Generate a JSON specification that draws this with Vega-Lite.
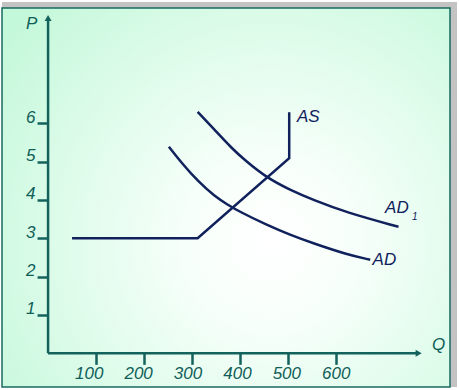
{
  "$schema": "https://vega.github.io/schema/vega-lite/v6.json",
  "width": 448,
  "height": 379,
  "autosize": "none",
  "padding": {"left": 2, "top": 8, "right": 9, "bottom": 3},
  "background": "#ffffff",
  "config": {"view": {"stroke": null}, "font": "Liberation Sans"},
  "datasets": {
    "curves": [
      {"series": "AS", "i": 0, "Q": 50, "P": 3.0},
      {"series": "AS", "i": 1, "Q": 312, "P": 3.0},
      {"series": "AS", "i": 2, "Q": 503, "P": 5.09},
      {"series": "AS", "i": 3, "Q": 503, "P": 6.29},
      {"series": "AD", "i": 0, "Q": 252, "P": 5.39},
      {"series": "AD", "i": 1, "Q": 279, "P": 4.96},
      {"series": "AD", "i": 2, "Q": 313, "P": 4.48},
      {"series": "AD", "i": 3, "Q": 348, "P": 4.09},
      {"series": "AD", "i": 4, "Q": 373, "P": 3.89},
      {"series": "AD", "i": 5, "Q": 400, "P": 3.69},
      {"series": "AD", "i": 6, "Q": 456, "P": 3.35},
      {"series": "AD", "i": 7, "Q": 505, "P": 3.09},
      {"series": "AD", "i": 8, "Q": 553, "P": 2.87},
      {"series": "AD", "i": 9, "Q": 623, "P": 2.58},
      {"series": "AD", "i": 10, "Q": 672, "P": 2.44},
      {"series": "AD1", "i": 0, "Q": 312, "P": 6.3},
      {"series": "AD1", "i": 1, "Q": 348, "P": 5.82},
      {"series": "AD1", "i": 2, "Q": 383, "P": 5.35},
      {"series": "AD1", "i": 3, "Q": 411, "P": 5.03},
      {"series": "AD1", "i": 4, "Q": 456, "P": 4.58},
      {"series": "AD1", "i": 5, "Q": 505, "P": 4.26},
      {"series": "AD1", "i": 6, "Q": 553, "P": 4.0},
      {"series": "AD1", "i": 7, "Q": 623, "P": 3.67},
      {"series": "AD1", "i": 8, "Q": 731, "P": 3.3}
    ],
    "labels": [
      {"kind": "curve", "text": "AS", "Q": 519, "P": 6.04},
      {"kind": "curve", "text": "AD", "Q": 677, "P": 2.3},
      {"kind": "curve", "text": "AD", "Q": 703, "P": 3.65},
      {"kind": "sub", "text": "1", "Q": 759, "P": 3.48},
      {"kind": "axis", "text": "P", "Q": -46, "P": 8.45},
      {"kind": "axis", "text": "Q", "Q": 801, "P": 0.09}
    ],
    "axes": [
      {"axis": "P", "Q": 0, "P": 0, "Q2": 0, "P2": 8.7},
      {"axis": "Q", "Q": 0, "P": 0, "Q2": 770, "P2": 0}
    ],
    "tips": [
      {"axis": "P", "Q": 0, "P": 8.746},
      {"axis": "Q", "Q": 773, "P": 0}
    ]
  },
  "layer": [
    {
      "data": {"values": [{}]},
      "mark": {"type": "rect", "color": "#c3c3c3", "xOffset": 7, "x2Offset": 7, "yOffset": -6, "y2Offset": -6},
      "encoding": {}
    },
    {
      "data": {"values": [{}]},
      "mark": {
        "type": "rect",
        "fill": {
          "gradient": "radial",
          "x1": 0.6, "y1": 0.6, "r1": 0,
          "x2": 0.6, "y2": 0.6, "r2": 0.75,
          "stops": [
            {"offset": 0, "color": "#ffffff"},
            {"offset": 0.25, "color": "#f7fffa"},
            {"offset": 1, "color": "#c4f8da"}
          ]
        },
        "stroke": "#176a60",
        "strokeWidth": 1.5
      },
      "encoding": {}
    },
    {
      "data": {"name": "axes"},
      "mark": {"type": "rule", "color": "#13625c", "strokeWidth": 2.5},
      "encoding": {
        "x": {"field": "Q", "type": "quantitative", "title": null, "scale": {"domain": [-96.1, 838.4], "nice": false, "zero": false},
          "axis": {
            "values": [100, 200, 300, 400, 500, 600],
            "orient": "bottom", "offset": -33.66, "domain": false, "grid": false, "zindex": 2,
            "tickSize": 11, "tickWidth": 2.5, "tickColor": "#13625c",
            "labelColor": "#0f5e58", "labelFont": "Liberation Sans", "labelFontSize": 17, "labelFontStyle": "italic",
            "labelPadding": 1, "labelFlush": false, "labelOverlap": false,
            "labelOffset": {"expr": "(datum.value-600)*0.0145"},
            "title": null
          }
        },
        "y": {"field": "P", "type": "quantitative", "title": null, "scale": {"domain": [-0.878, 9.007], "nice": false, "zero": false},
          "axis": {
            "values": [1, 2, 3, 4, 5, 6],
            "orient": "left", "offset": -46.06, "domain": false, "grid": false, "zindex": 2,
            "tickSize": 11, "tickWidth": 2.5, "tickColor": "#13625c",
            "labelColor": "#0f5e58", "labelFont": "Liberation Sans", "labelFontSize": 17, "labelFontStyle": "italic",
            "labelPadding": 2, "labelBaseline": "alphabetic", "labelOffset": -1, "labelFlush": false, "labelOverlap": false,
            "title": null
          }
        },
        "x2": {"field": "Q2"},
        "y2": {"field": "P2"}
      }
    },
    {
      "data": {"name": "tips"},
      "mark": {"type": "point", "filled": true, "size": 49, "opacity": 1, "color": "#13625c"},
      "encoding": {
        "x": {"field": "Q", "type": "quantitative", "title": null},
        "y": {"field": "P", "type": "quantitative", "title": null},
        "shape": {"field": "axis", "type": "nominal", "scale": {"domain": ["P", "Q"], "range": ["triangle-up", "triangle-right"]}, "legend": null}
      }
    },
    {
      "data": {"name": "curves"},
      "transform": [{"filter": "datum.series === 'AS'"}],
      "mark": {"type": "line", "color": "#10215c", "strokeWidth": 2.5},
      "encoding": {
        "x": {"field": "Q", "type": "quantitative", "title": null},
        "y": {"field": "P", "type": "quantitative", "title": null},
        "order": {"field": "i", "type": "quantitative"}
      }
    },
    {
      "data": {"name": "curves"},
      "transform": [{"filter": "datum.series !== 'AS'"}],
      "mark": {"type": "line", "color": "#10215c", "strokeWidth": 2.5, "interpolate": "basis"},
      "encoding": {
        "x": {"field": "Q", "type": "quantitative", "title": null},
        "y": {"field": "P", "type": "quantitative", "title": null},
        "detail": {"field": "series"},
        "order": {"field": "i", "type": "quantitative"}
      }
    },
    {
      "data": {"name": "labels"},
      "transform": [{"filter": "datum.kind === 'curve'"}],
      "mark": {"type": "text", "align": "left", "baseline": "alphabetic", "font": "Liberation Sans", "fontStyle": "italic", "fontSize": 17, "color": "#10215c"},
      "encoding": {
        "x": {"field": "Q", "type": "quantitative", "title": null},
        "y": {"field": "P", "type": "quantitative", "title": null},
        "text": {"field": "text"}
      }
    },
    {
      "data": {"name": "labels"},
      "transform": [{"filter": "datum.kind === 'sub'"}],
      "mark": {"type": "text", "align": "left", "baseline": "alphabetic", "font": "Liberation Sans", "fontStyle": "italic", "fontSize": 10, "color": "#10215c"},
      "encoding": {
        "x": {"field": "Q", "type": "quantitative", "title": null},
        "y": {"field": "P", "type": "quantitative", "title": null},
        "text": {"field": "text"}
      }
    },
    {
      "data": {"name": "labels"},
      "transform": [{"filter": "datum.kind === 'axis'"}],
      "mark": {"type": "text", "align": "left", "baseline": "alphabetic", "font": "Liberation Sans", "fontStyle": "italic", "fontSize": 17, "color": "#0f5e58"},
      "encoding": {
        "x": {"field": "Q", "type": "quantitative", "title": null},
        "y": {"field": "P", "type": "quantitative", "title": null},
        "text": {"field": "text"}
      }
    }
  ]
}
